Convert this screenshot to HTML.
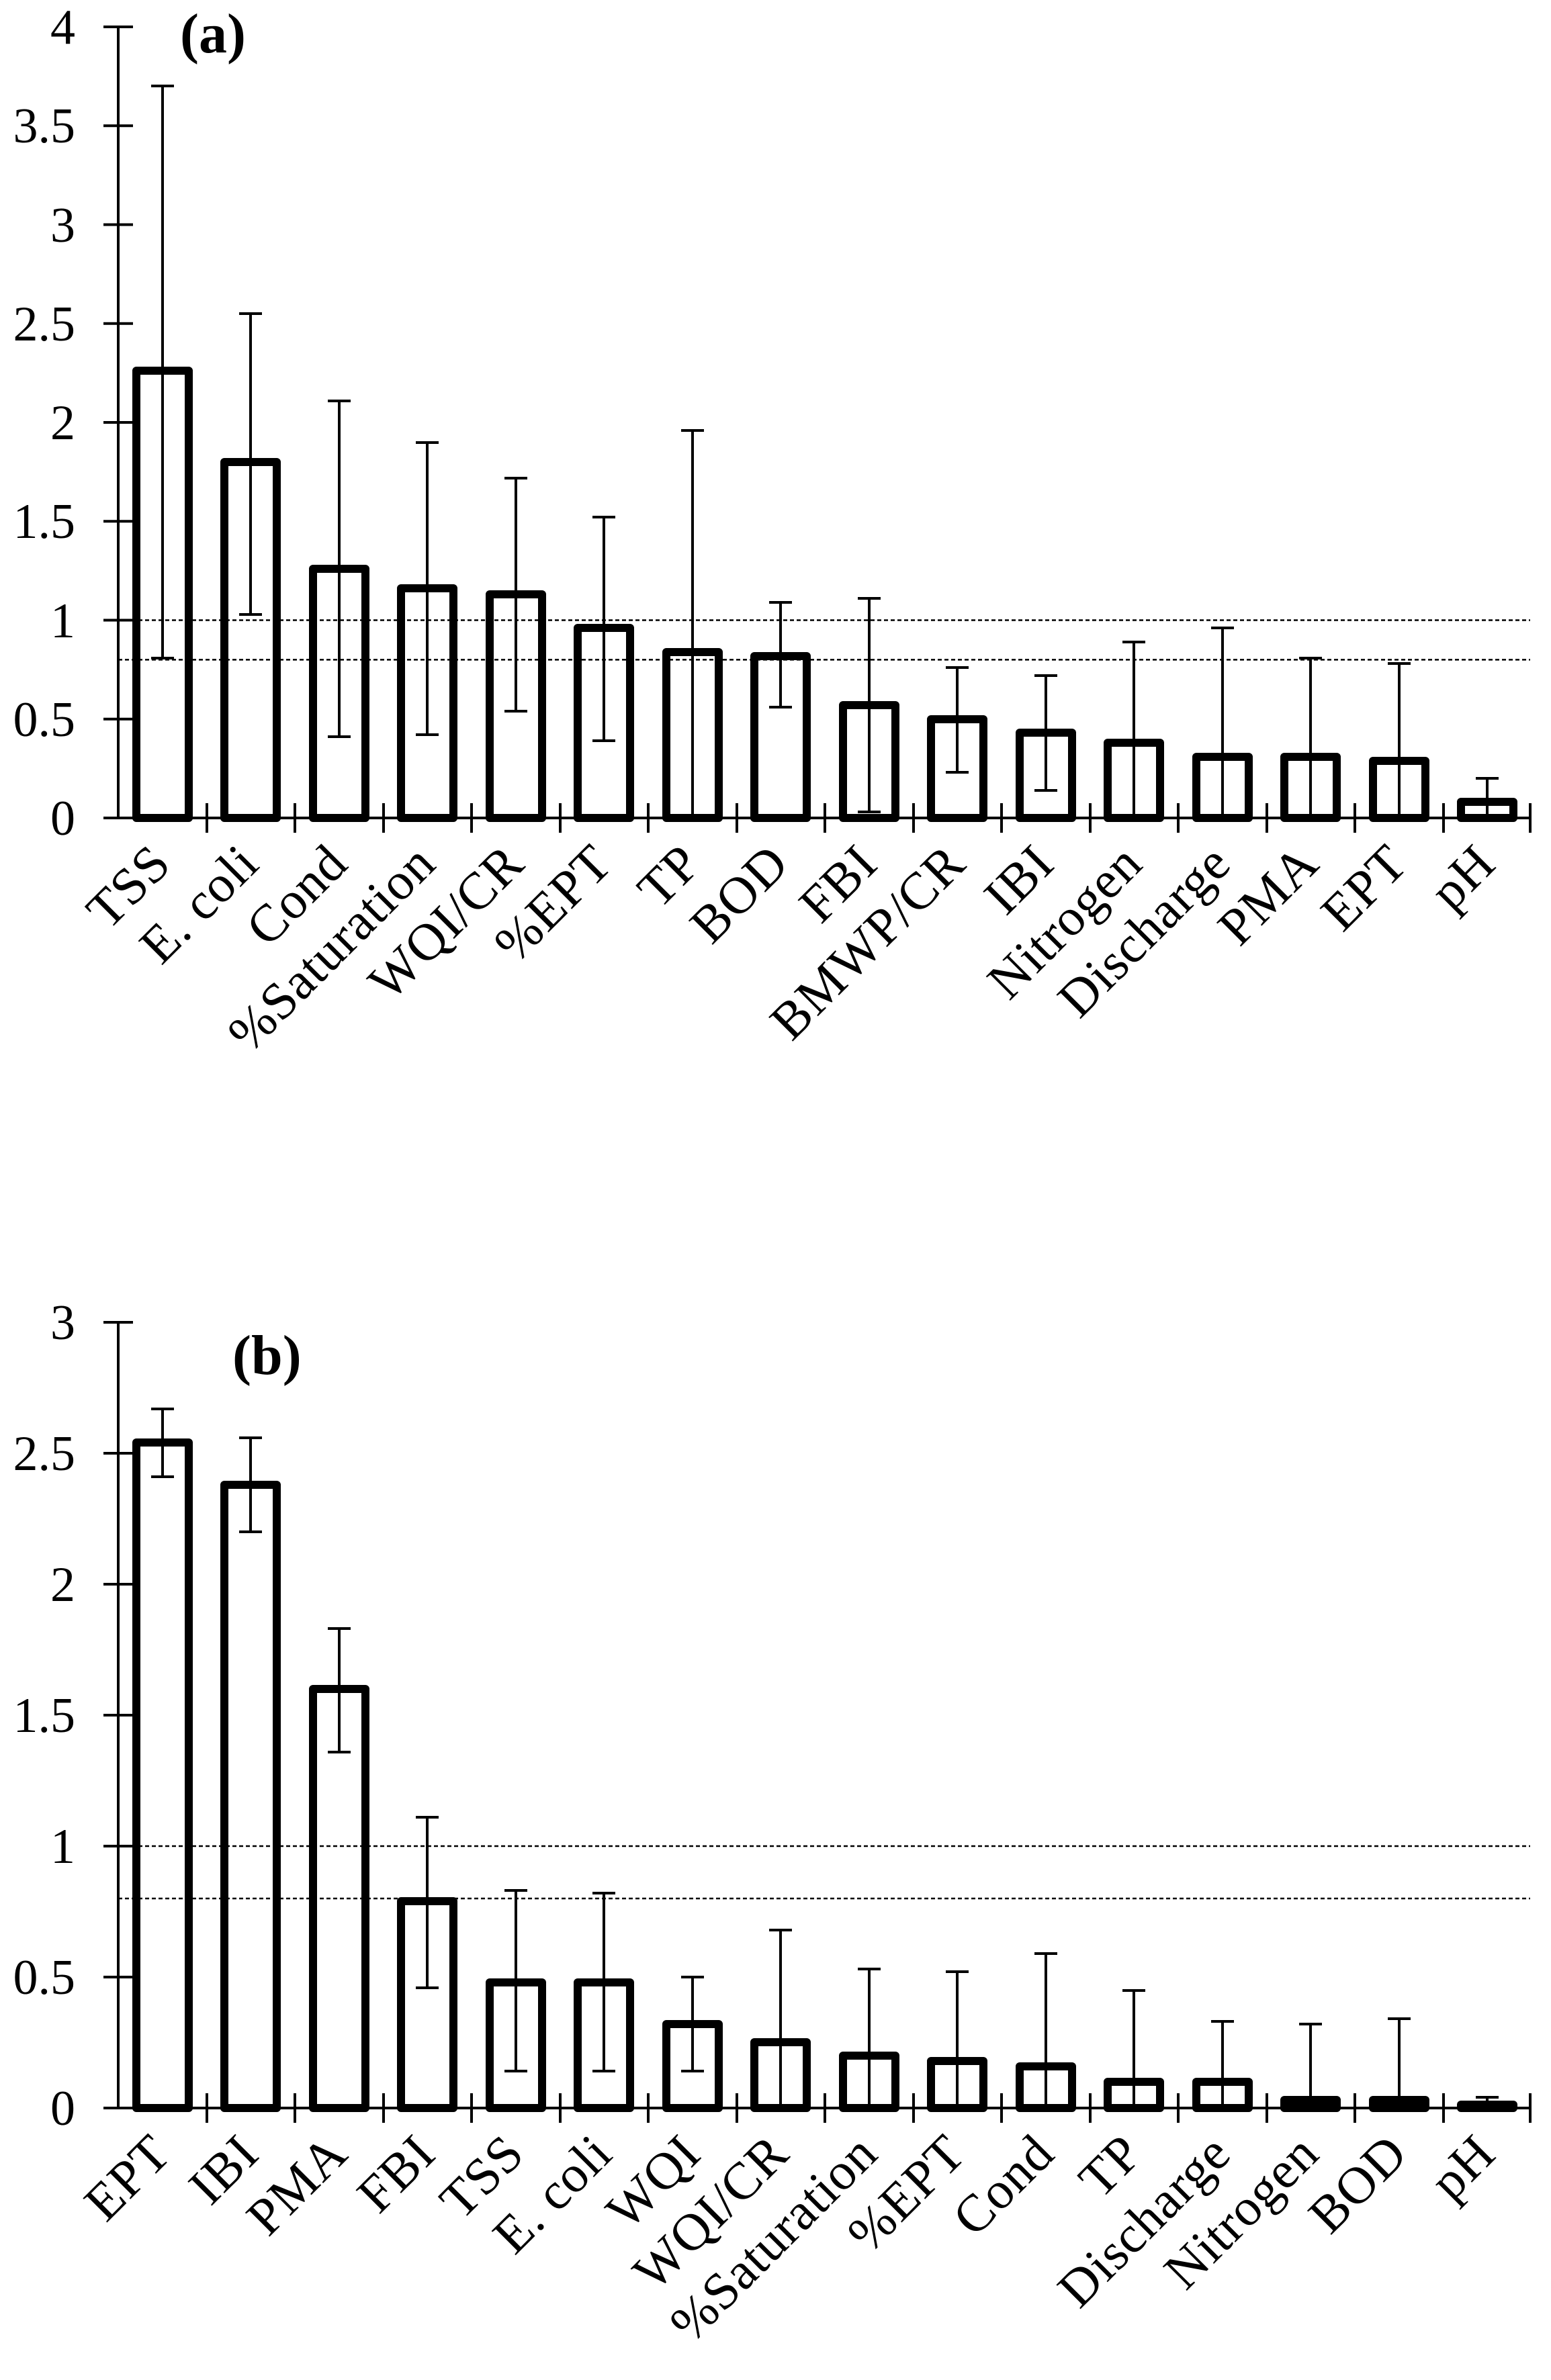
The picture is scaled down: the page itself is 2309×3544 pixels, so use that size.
<!DOCTYPE html>
<html><head><meta charset="utf-8"><style>
html,body{margin:0;padding:0;background:#fff;}
svg{display:block;}
text{font-family:"Liberation Serif",serif;fill:#000;}
.t{font-size:74px;}
.xl{font-size:78px;text-anchor:end;letter-spacing:1px;}
.b{fill:none;stroke:#000;stroke-width:12;stroke-linejoin:round;}
.e{stroke:#000;stroke-width:4;}
.d{stroke:#000;stroke-width:2.5;stroke-dasharray:6,4;}
.a{stroke:#000;stroke-width:4;}
</style></head><body>
<svg width="2309" height="3544" viewBox="0 0 2309 3544" xmlns="http://www.w3.org/2000/svg">
<!-- ===== Chart (a) ===== -->
<g>
<line class="a" x1="176" y1="40" x2="176" y2="1218"/>
<line class="a" x1="176" y1="1218" x2="2278" y2="1218"/>
<g class="a">
<line x1="154" y1="1218" x2="198" y2="1218"/><line x1="154" y1="1070.75" x2="198" y2="1070.75"/>
<line x1="154" y1="923.5" x2="198" y2="923.5"/><line x1="154" y1="776.25" x2="198" y2="776.25"/>
<line x1="154" y1="629" x2="198" y2="629"/><line x1="154" y1="481.75" x2="198" y2="481.75"/>
<line x1="154" y1="334.5" x2="198" y2="334.5"/><line x1="154" y1="187.25" x2="198" y2="187.25"/>
<line x1="154" y1="40" x2="198" y2="40"/>
</g>
<g class="t" text-anchor="end">
<text x="112" y="1243">0</text><text x="112" y="1096">0.5</text><text x="112" y="949">1</text>
<text x="112" y="801">1.5</text><text x="112" y="654">2</text><text x="112" y="507">2.5</text>
<text x="112" y="360">3</text><text x="112" y="212">3.5</text><text x="112" y="65">4</text>
</g>
<g class="a">
<line x1="308" y1="1196" x2="308" y2="1240"/><line x1="439" y1="1196" x2="439" y2="1240"/>
<line x1="571" y1="1196" x2="571" y2="1240"/><line x1="702" y1="1196" x2="702" y2="1240"/>
<line x1="834" y1="1196" x2="834" y2="1240"/><line x1="965" y1="1196" x2="965" y2="1240"/>
<line x1="1097" y1="1196" x2="1097" y2="1240"/><line x1="1228" y1="1196" x2="1228" y2="1240"/>
<line x1="1360" y1="1196" x2="1360" y2="1240"/><line x1="1491" y1="1196" x2="1491" y2="1240"/>
<line x1="1623" y1="1196" x2="1623" y2="1240"/><line x1="1754" y1="1196" x2="1754" y2="1240"/>
<line x1="1886" y1="1196" x2="1886" y2="1240"/><line x1="2017" y1="1196" x2="2017" y2="1240"/>
<line x1="2149" y1="1196" x2="2149" y2="1240"/><line x1="2278" y1="1196" x2="2278" y2="1240"/>
</g>
<line class="d" x1="176" y1="923.5" x2="2278" y2="923.5"/>
<line class="d" x1="176" y1="982.4" x2="2278" y2="982.4"/>
<g class="b">
<rect x="203" y="552" width="78" height="666"/>
<rect x="334" y="688" width="78" height="530"/>
<rect x="466" y="847" width="78" height="371"/>
<rect x="597" y="876" width="78" height="342"/>
<rect x="729" y="885" width="78" height="333"/>
<rect x="860" y="935" width="78" height="283"/>
<rect x="992" y="971" width="78" height="247"/>
<rect x="1123" y="977" width="78" height="241"/>
<rect x="1255" y="1050" width="78" height="168"/>
<rect x="1386" y="1071" width="78" height="147"/>
<rect x="1518" y="1091" width="78" height="127"/>
<rect x="1649" y="1106" width="78" height="112"/>
<rect x="1781" y="1127" width="78" height="91"/>
<rect x="1912" y="1127" width="78" height="91"/>
<rect x="2044" y="1133" width="78" height="85"/>
<rect x="2175" y="1194" width="78" height="24"/>
</g>
<g class="e">
<line x1="242" y1="980" x2="242" y2="128"/><line x1="225" y1="128" x2="259" y2="128"/><line x1="225" y1="980" x2="259" y2="980"/>
<line x1="373" y1="915" x2="373" y2="467"/><line x1="356" y1="467" x2="390" y2="467"/><line x1="356" y1="915" x2="390" y2="915"/>
<line x1="505" y1="1097" x2="505" y2="597"/><line x1="488" y1="597" x2="522" y2="597"/><line x1="488" y1="1097" x2="522" y2="1097"/>
<line x1="636" y1="1094" x2="636" y2="659"/><line x1="619" y1="659" x2="653" y2="659"/><line x1="619" y1="1094" x2="653" y2="1094"/>
<line x1="768" y1="1059" x2="768" y2="712"/><line x1="751" y1="712" x2="785" y2="712"/><line x1="751" y1="1059" x2="785" y2="1059"/>
<line x1="899" y1="1103" x2="899" y2="770"/><line x1="882" y1="770" x2="916" y2="770"/><line x1="882" y1="1103" x2="916" y2="1103"/>
<line x1="1031" y1="1218" x2="1031" y2="641"/><line x1="1014" y1="641" x2="1048" y2="641"/>
<line x1="1162" y1="1053" x2="1162" y2="897"/><line x1="1145" y1="897" x2="1179" y2="897"/><line x1="1145" y1="1053" x2="1179" y2="1053"/>
<line x1="1294" y1="1209" x2="1294" y2="891"/><line x1="1277" y1="891" x2="1311" y2="891"/><line x1="1277" y1="1209" x2="1311" y2="1209"/>
<line x1="1425" y1="1150" x2="1425" y2="994"/><line x1="1408" y1="994" x2="1442" y2="994"/><line x1="1408" y1="1150" x2="1442" y2="1150"/>
<line x1="1557" y1="1177" x2="1557" y2="1006"/><line x1="1540" y1="1006" x2="1574" y2="1006"/><line x1="1540" y1="1177" x2="1574" y2="1177"/>
<line x1="1688" y1="1218" x2="1688" y2="956"/><line x1="1671" y1="956" x2="1705" y2="956"/>
<line x1="1820" y1="1218" x2="1820" y2="935"/><line x1="1803" y1="935" x2="1837" y2="935"/>
<line x1="1951" y1="1218" x2="1951" y2="980"/><line x1="1934" y1="980" x2="1968" y2="980"/>
<line x1="2083" y1="1218" x2="2083" y2="988"/><line x1="2066" y1="988" x2="2100" y2="988"/>
<line x1="2214" y1="1218" x2="2214" y2="1159"/><line x1="2197" y1="1159" x2="2231" y2="1159"/>
</g>
<text x="268" y="78" style="font-size:84px;font-weight:bold">(a)</text>
<g class="xl">
<text transform="translate(258,1290) rotate(-45)">TSS</text>
<text transform="translate(389,1290) rotate(-45)">E. coli</text>
<text transform="translate(521,1290) rotate(-45)">Cond</text>
<text transform="translate(652,1290) rotate(-45)">%Saturation</text>
<text transform="translate(784,1290) rotate(-45)">WQI/CR</text>
<text transform="translate(915,1290) rotate(-45)">%EPT</text>
<text transform="translate(1047,1290) rotate(-45)">TP</text>
<text transform="translate(1178,1290) rotate(-45)">BOD</text>
<text transform="translate(1310,1290) rotate(-45)">FBI</text>
<text transform="translate(1441,1290) rotate(-45)">BMWP/CR</text>
<text transform="translate(1573,1290) rotate(-45)">IBI</text>
<text transform="translate(1704,1290) rotate(-45)">Nitrogen</text>
<text transform="translate(1836,1290) rotate(-45)">Discharge</text>
<text transform="translate(1967,1290) rotate(-45)">PMA</text>
<text transform="translate(2099,1290) rotate(-45)">EPT</text>
<text transform="translate(2230,1290) rotate(-45)">pH</text>
</g>
</g>

<!-- ===== Chart (b) ===== -->
<g>
<line class="a" x1="176" y1="1969" x2="176" y2="3139"/>
<line class="a" x1="176" y1="3139" x2="2278" y2="3139"/>
<g class="a">
<line x1="154" y1="3139" x2="198" y2="3139"/><line x1="154" y1="2944" x2="198" y2="2944"/>
<line x1="154" y1="2749" x2="198" y2="2749"/><line x1="154" y1="2554" x2="198" y2="2554"/>
<line x1="154" y1="2359" x2="198" y2="2359"/><line x1="154" y1="2164" x2="198" y2="2164"/>
<line x1="154" y1="1969" x2="198" y2="1969"/>
</g>
<g class="t" text-anchor="end">
<text x="112" y="3164">0</text><text x="112" y="2969">0.5</text><text x="112" y="2774">1</text>
<text x="112" y="2579">1.5</text><text x="112" y="2384">2</text><text x="112" y="2189">2.5</text>
<text x="112" y="1994">3</text>
</g>
<g class="a">
<line x1="308" y1="3117" x2="308" y2="3161"/><line x1="439" y1="3117" x2="439" y2="3161"/>
<line x1="571" y1="3117" x2="571" y2="3161"/><line x1="702" y1="3117" x2="702" y2="3161"/>
<line x1="834" y1="3117" x2="834" y2="3161"/><line x1="965" y1="3117" x2="965" y2="3161"/>
<line x1="1097" y1="3117" x2="1097" y2="3161"/><line x1="1228" y1="3117" x2="1228" y2="3161"/>
<line x1="1360" y1="3117" x2="1360" y2="3161"/><line x1="1491" y1="3117" x2="1491" y2="3161"/>
<line x1="1623" y1="3117" x2="1623" y2="3161"/><line x1="1754" y1="3117" x2="1754" y2="3161"/>
<line x1="1886" y1="3117" x2="1886" y2="3161"/><line x1="2017" y1="3117" x2="2017" y2="3161"/>
<line x1="2149" y1="3117" x2="2149" y2="3161"/><line x1="2278" y1="3117" x2="2278" y2="3161"/>
</g>
<line class="d" x1="176" y1="2749" x2="2278" y2="2749"/>
<line class="d" x1="176" y1="2827" x2="2278" y2="2827"/>
<g class="b">
<rect x="203" y="2148" width="78" height="991"/>
<rect x="334" y="2211" width="78" height="928"/>
<rect x="466" y="2515" width="78" height="624"/>
<rect x="597" y="2831" width="78" height="308"/>
<rect x="729" y="2952" width="78" height="187"/>
<rect x="860" y="2952" width="78" height="187"/>
<rect x="992" y="3014" width="78" height="125"/>
<rect x="1123" y="3041" width="78" height="98"/>
<rect x="1255" y="3061" width="78" height="78"/>
<rect x="1386" y="3069" width="78" height="70"/>
<rect x="1518" y="3077" width="78" height="62"/>
<rect x="1649" y="3100" width="78" height="39"/>
<rect x="1781" y="3100" width="78" height="39"/>
<rect x="1912" y="3127" width="78" height="12"/>
<rect x="2044" y="3127" width="78" height="12"/>
<rect x="2175" y="3134" width="78" height="5"/>
</g>
<g class="e">
<line x1="242" y1="2199" x2="242" y2="2098"/><line x1="225" y1="2098" x2="259" y2="2098"/><line x1="225" y1="2199" x2="259" y2="2199"/>
<line x1="373" y1="2281" x2="373" y2="2141"/><line x1="356" y1="2141" x2="390" y2="2141"/><line x1="356" y1="2281" x2="390" y2="2281"/>
<line x1="505" y1="2609" x2="505" y2="2425"/><line x1="488" y1="2425" x2="522" y2="2425"/><line x1="488" y1="2609" x2="522" y2="2609"/>
<line x1="636" y1="2960" x2="636" y2="2706"/><line x1="619" y1="2706" x2="653" y2="2706"/><line x1="619" y1="2960" x2="653" y2="2960"/>
<line x1="768" y1="3084" x2="768" y2="2815"/><line x1="751" y1="2815" x2="785" y2="2815"/><line x1="751" y1="3084" x2="785" y2="3084"/>
<line x1="899" y1="3084" x2="899" y2="2819"/><line x1="882" y1="2819" x2="916" y2="2819"/><line x1="882" y1="3084" x2="916" y2="3084"/>
<line x1="1031" y1="3084" x2="1031" y2="2944"/><line x1="1014" y1="2944" x2="1048" y2="2944"/><line x1="1014" y1="3084" x2="1048" y2="3084"/>
<line x1="1162" y1="3139" x2="1162" y2="2874"/><line x1="1145" y1="2874" x2="1179" y2="2874"/>
<line x1="1294" y1="3139" x2="1294" y2="2932"/><line x1="1277" y1="2932" x2="1311" y2="2932"/>
<line x1="1425" y1="3139" x2="1425" y2="2936"/><line x1="1408" y1="2936" x2="1442" y2="2936"/>
<line x1="1557" y1="3139" x2="1557" y2="2909"/><line x1="1540" y1="2909" x2="1574" y2="2909"/>
<line x1="1688" y1="3139" x2="1688" y2="2964"/><line x1="1671" y1="2964" x2="1705" y2="2964"/>
<line x1="1820" y1="3139" x2="1820" y2="3010"/><line x1="1803" y1="3010" x2="1837" y2="3010"/>
<line x1="1951" y1="3139" x2="1951" y2="3014"/><line x1="1934" y1="3014" x2="1968" y2="3014"/>
<line x1="2083" y1="3139" x2="2083" y2="3006"/><line x1="2066" y1="3006" x2="2100" y2="3006"/>
<line x1="2214" y1="3139" x2="2214" y2="3123"/><line x1="2197" y1="3123" x2="2231" y2="3123"/>
</g>
<text x="346" y="2046" style="font-size:84px;font-weight:bold">(b)</text>
<g class="xl">
<text transform="translate(258,3211) rotate(-45)">EPT</text>
<text transform="translate(389,3211) rotate(-45)">IBI</text>
<text transform="translate(521,3211) rotate(-45)">PMA</text>
<text transform="translate(652,3211) rotate(-45)">FBI</text>
<text transform="translate(784,3211) rotate(-45)">TSS</text>
<text transform="translate(915,3211) rotate(-45)">E. coli</text>
<text transform="translate(1047,3211) rotate(-45)">WQI</text>
<text transform="translate(1178,3211) rotate(-45)">WQI/CR</text>
<text transform="translate(1310,3211) rotate(-45)">%Saturation</text>
<text transform="translate(1441,3211) rotate(-45)">%EPT</text>
<text transform="translate(1573,3211) rotate(-45)">Cond</text>
<text transform="translate(1704,3211) rotate(-45)">TP</text>
<text transform="translate(1836,3211) rotate(-45)">Discharge</text>
<text transform="translate(1967,3211) rotate(-45)">Nitrogen</text>
<text transform="translate(2099,3211) rotate(-45)">BOD</text>
<text transform="translate(2230,3211) rotate(-45)">pH</text>
</g>
</g>
</svg>
</body></html>
